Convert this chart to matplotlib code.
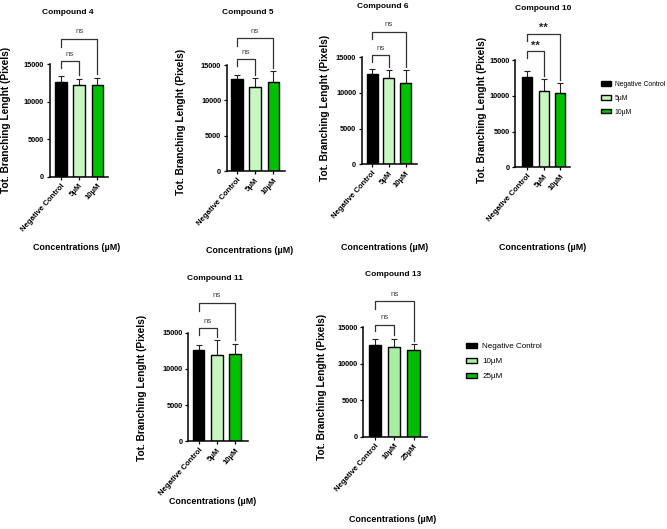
import matplotlib
matplotlib.use("Agg")
import matplotlib.pyplot as plt
from matplotlib.patches import Patch

plt.rcParams['font.family'] = ['Liberation Sans', 'DejaVu Sans']

# ---------------- data ----------------
titles = ["Compound 4", "Compound 5", "Compound 6", "Compound 10", "Compound 11", "Compound 13"]
labels_a = ["Negative Control", "5µM", "10µM"]
labels_b = ["Negative Control", "10µM", "25µM"]

means_c4 = [12590, 12190, 12280]
err_c4 = [810, 890, 920]
means_c5 = [13000, 11900, 12550]
err_c5 = [600, 1200, 1550]
means_c6 = [12600, 12100, 11450]
err_c6 = [760, 1070, 1720]
means_c10 = [12580, 10700, 10340]
err_c10 = [820, 1600, 1400]
means_c11 = [12580, 11980, 12030]
err_c11 = [780, 1980, 1420]
means_c13 = [12540, 12270, 11860]
err_c13 = [820, 1130, 770]

sig_c4 = ["ns", "ns"]
sig_c5 = ["ns", "ns"]
sig_c6 = ["ns", "ns"]
sig_c10 = ["**", "**"]
sig_c11 = ["ns", "ns"]
sig_c13 = ["ns", "ns"]

yticks = [0, 5000, 10000, 15000]

# ---------------- styling / layout ----------------
W, H = 667, 529
fig = plt.figure(figsize=(W / 100, H / 100), dpi=100)

colors_a = ["#000000", "#c8f6c0", "#00c000"]
colors_b = ["#000000", "#a8eea0", "#00bb00"]

# left, right, y(0), y(15000) in pixels; xlim; bar width; bracket levels
panels = [
    dict(box=(49.5, 108, 176.7, 64.3), xlim=(-0.63, 2.58), w=0.63, lo=15400, hi=18400,
         m=means_c4, e=err_c4, s=sig_c4, lab=labels_a, col=colors_a,
         ylab=(6, 120), xlab=(77, 248)),
    dict(box=(226.7, 285, 171.3, 65), xlim=(-0.55, 2.63), w=0.64, lo=15800, hi=18750,
         m=means_c5, e=err_c5, s=sig_c5, lab=labels_a, col=colors_a,
         ylab=(181, 122), xlab=(250, 250)),
    dict(box=(361.7, 416.7, 164.3, 57.3), xlim=(-0.63, 2.66), w=0.66, lo=15300, hi=18600,
         m=means_c6, e=err_c6, s=sig_c6, lab=labels_a, col=colors_a,
         ylab=(325, 108), xlab=(385, 247)),
    dict(box=(515, 570, 167.3, 60), xlim=(-0.74, 2.61), w=0.61, lo=16200, hi=18700,
         m=means_c10, e=err_c10, s=sig_c10, lab=labels_a, col=colors_a,
         ylab=(482, 110), xlab=(543, 248)),
    dict(box=(188, 248, 441.3, 332.7), xlim=(-0.58, 2.7), w=0.63, lo=15600, hi=19100,
         m=means_c11, e=err_c11, s=sig_c11, lab=labels_a, col=colors_a,
         ylab=(142, 388), xlab=(213, 502)),
    dict(box=(363, 427, 436.7, 327), xlim=(-0.63, 2.7), w=0.63, lo=15300, hi=18500,
         m=means_c13, e=err_c13, s=sig_c13, lab=labels_b, col=colors_b,
         ylab=(322, 387), xlab=(393, 520)),
]

title_pos = [(68, 13), (248, 12), (383, 7), (543, 9), (215, 278), (393, 275)]

for i, p in enumerate(panels):
    l, r, y0, y1 = p["box"]
    ax = fig.add_axes([l / W, 1 - y0 / H, (r - l) / W, (y0 - y1) / H])
    x = [0, 1, 2]
    ax.bar(x, p["m"], width=p["w"], color=p["col"], edgecolor="black", linewidth=1.0, zorder=2)
    ax.errorbar(x, p["m"], yerr=[[0, 0, 0], p["e"]], fmt="none", ecolor="#222222",
                elinewidth=0.8, capsize=2.2, capthick=0.8, zorder=1, clip_on=False)
    ax.set_ylim(0, 15000)
    ax.set_xlim(*p["xlim"])
    ax.set_yticks(yticks)
    ax.set_yticklabels([str(t) for t in yticks], fontsize=5.3, fontweight="bold")
    ax.set_xticks(x)
    ax.set_xticklabels(p["lab"], rotation=48, ha="right", rotation_mode="anchor",
                       fontsize=5.6, fontweight="bold")
    ax.tick_params(axis="both", length=2.5, width=0.9, pad=1.5)
    for sp in ["top", "right"]:
        ax.spines[sp].set_visible(False)
    for sp in ["left", "bottom"]:
        ax.spines[sp].set_linewidth(1.1)
    # brackets
    lo, hi = p["lo"], p["hi"]
    m, e = p["m"], p["e"]
    kw = dict(color="#333333", lw=0.9, clip_on=False, zorder=3)
    ax.plot([0, 0, 1, 1], [lo - 900, lo, lo, m[1] + e[1] + 500], **kw)
    ax.plot([0, 0, 2, 2], [hi - 1100, hi, hi, m[2] + e[2] + 500], **kw)
    for (xm, yy, s) in [(0.5, lo, p["s"][0]), (1.0, hi, p["s"][1])]:
        if s == "ns":
            ax.text(xm, yy + 500, s, ha="center", va="bottom", fontsize=5.8,
                    color="#444444", clip_on=False)
        else:
            ax.text(xm, yy + 100, s, ha="center", va="bottom", fontsize=8,
                    fontweight="bold", color="#222222", clip_on=False)
    # axis labels and titles placed in figure pixels
    fig.text(p["ylab"][0] / W, 1 - p["ylab"][1] / H, "Tot. Branching Lenght (Pixels)",
             rotation=90, ha="center", va="center", fontsize=7.3, fontweight="bold")
    fig.text(p["xlab"][0] / W, 1 - p["xlab"][1] / H, "Concentrations (µM)",
             ha="center", va="center", fontsize=6.4, fontweight="bold")
    tx, ty = title_pos[i]
    fig.text(tx / W, 1 - ty / H, titles[i], ha="center", va="center",
             fontsize=6.0, fontweight="bold")


# legends
def add_legend(labels, cols, x, y, fs, spacing):
    handles = [Patch(facecolor=c, edgecolor="black", linewidth=1.0) for c in cols]
    fig.legend(handles, labels, loc="upper left", bbox_to_anchor=(x / W, 1 - y / H),
               frameon=False, fontsize=fs, handlelength=1.4, handleheight=0.6,
               handletextpad=0.6, labelspacing=spacing, borderpad=0, borderaxespad=0)


add_legend(labels_a, colors_a, 601, 81, 4.9, 1.0)
add_legend(labels_b, colors_b, 466, 343, 5.8, 0.95)

fig.savefig("out.png", dpi=100)
